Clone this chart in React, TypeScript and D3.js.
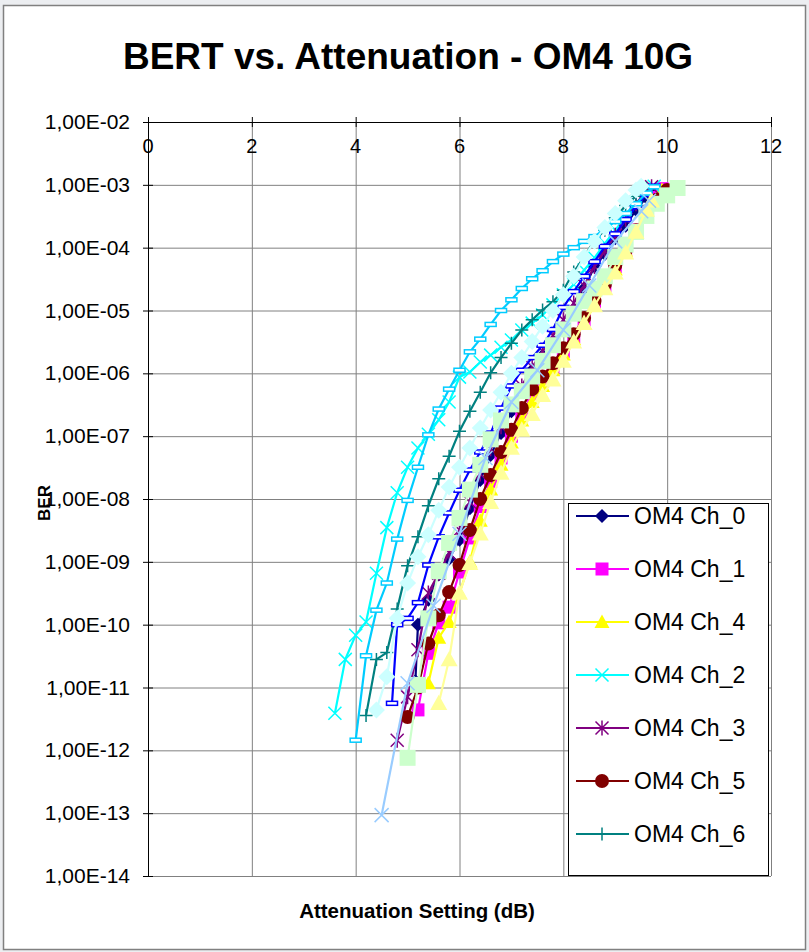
import React, { useRef, useEffect } from "react";
import * as d3 from "d3";

// axis ticks
const xTicks = [0, 2, 4, 6, 8, 10, 12];
const yTicks = [1e-2, 1e-3, 1e-4, 1e-5, 1e-6, 1e-7, 1e-8, 1e-9, 1e-10, 1e-11, 1e-12, 1e-13, 1e-14];
const yTickLabels = ["1,00E-02", "1,00E-03", "1,00E-04", "1,00E-05", "1,00E-06", "1,00E-07", "1,00E-08",
  "1,00E-09", "1,00E-10", "1,00E-11", "1,00E-12", "1,00E-13", "1,00E-14"];

// [attenuation dB, BER]
const ch0 = [[5.15, 1.26e-11], [5.2, 1.0e-10], [5.4, 2.5e-10], [5.6, 6.3e-10], [5.8, 1.12e-9], [6.0, 2.24e-9],
  [6.2, 7.1e-9], [6.4, 2.0e-8], [6.6, 5.0e-8], [6.8, 1.12e-7], [7.0, 2.5e-7], [7.2, 5.6e-7], [7.4, 1.12e-6],
  [7.6, 1.9e-6], [7.8, 3.2e-6], [8.0, 5.6e-6], [8.2, 1.0e-5], [8.4, 2.24e-5], [8.6, 5.0e-5], [8.8, 7.9e-5],
  [9.0, 1.41e-4], [9.2, 2.24e-4], [9.4, 4.0e-4], [9.6, 6.3e-4], [9.8, 8.9e-4]];
const ch1 = [[5.2, 4.4e-12], [5.4, 3.5e-11], [5.6, 1.07e-10], [5.8, 1.9e-10], [6.0, 6.9e-10], [6.2, 2.4e-9],
  [6.4, 7.6e-9], [6.6, 1.9e-8], [6.8, 4.5e-8], [7.0, 1.0e-7], [7.2, 2.24e-7], [7.4, 4.5e-7], [7.6, 7.4e-7],
  [7.8, 1.26e-6], [8.0, 2.24e-6], [8.2, 3.8e-6], [8.4, 7.1e-6], [8.6, 1.32e-5], [8.8, 2.5e-5], [9.0, 5.0e-5],
  [9.2, 9.3e-5], [9.4, 1.9e-4], [9.6, 3.5e-4], [9.8, 6.3e-4], [9.9, 8.7e-4]];
const ch4 = [[5.4, 1.17e-11], [5.6, 6.2e-11], [5.8, 1.1e-10], [6.0, 3.2e-10], [6.2, 1.0e-9], [6.4, 4.5e-9],
  [6.6, 1.41e-8], [6.8, 3.5e-8], [7.0, 7.9e-8], [7.2, 1.78e-7], [7.4, 3.5e-7], [7.6, 6.3e-7], [7.8, 1.12e-6],
  [8.0, 2.0e-6], [8.2, 3.5e-6], [8.4, 6.3e-6], [8.6, 1.2e-5], [8.8, 2.24e-5], [9.0, 4.5e-5], [9.2, 8.9e-5],
  [9.4, 1.78e-4], [9.6, 3.5e-4], [9.8, 6.0e-4], [9.9, 8.3e-4]];
const ch2 = [[3.6, 3.9e-12], [3.8, 2.8e-11], [4.0, 6.8e-11], [4.2, 1.1e-10], [4.4, 6.6e-10], [4.6, 3.5e-9],
  [4.8, 1.26e-8], [5.0, 3.2e-8], [5.2, 6.5e-8], [5.4, 1.07e-7], [5.6, 1.82e-7], [5.8, 3.5e-7], [6.0, 8.7e-7],
  [6.2, 1.05e-6], [6.4, 1.51e-6], [6.6, 1.95e-6], [6.8, 2.6e-6], [7.0, 3.4e-6], [7.2, 4.9e-6], [7.4, 6.3e-6],
  [7.6, 8.5e-6], [7.8, 1.23e-5], [8.0, 1.78e-5], [8.2, 2.6e-5], [8.4, 4.4e-5], [8.6, 6.9e-5], [8.8, 1.17e-4],
  [9.0, 1.9e-4], [9.2, 3.1e-4], [9.4, 5.1e-4], [9.6, 7.4e-4], [9.75, 9.5e-4]];
const ch3 = [[4.8, 1.45e-12], [5.0, 7.1e-12], [5.2, 4.0e-11], [5.4, 3.2e-10], [5.6, 6.6e-10], [5.8, 1.38e-9],
  [6.0, 3.2e-9], [6.2, 8.9e-9], [6.4, 2.5e-8], [6.6, 6.3e-8], [6.8, 1.41e-7], [7.0, 3.2e-7], [7.2, 6.3e-7],
  [7.4, 1.26e-6], [7.6, 2.24e-6], [7.8, 4.0e-6], [8.0, 7.1e-6], [8.2, 1.32e-5], [8.4, 2.5e-5], [8.6, 5.0e-5],
  [8.8, 8.9e-5], [9.0, 1.58e-4], [9.2, 2.8e-4], [9.4, 5.0e-4], [9.6, 7.9e-4], [9.7, 9.3e-4]];
const ch5 = [[5.0, 3.4e-12], [5.2, 1.0e-11], [5.4, 5.0e-11], [5.6, 1.41e-10], [5.8, 3.3e-10], [6.0, 8.9e-10],
  [6.2, 3.2e-9], [6.4, 1.0e-8], [6.6, 2.4e-8], [6.8, 5.6e-8], [7.0, 1.26e-7], [7.2, 2.8e-7], [7.4, 5.6e-7],
  [7.6, 8.9e-7], [7.8, 1.45e-6], [8.0, 2.5e-6], [8.2, 4.2e-6], [8.4, 7.6e-6], [8.6, 1.41e-5], [8.8, 2.6e-5],
  [9.0, 5.2e-5], [9.2, 9.1e-5], [9.4, 1.9e-4], [9.6, 3.8e-4], [9.8, 5.8e-4], [10.0, 8.3e-4]];
const ch6 = [[4.2, 3.6e-12], [4.4, 2.8e-11], [4.6, 3.6e-11], [4.8, 1.78e-10], [5.0, 8.7e-10], [5.2, 2.5e-9],
  [5.4, 7.8e-9], [5.6, 2.1e-8], [5.8, 4.8e-8], [6.0, 1.2e-7], [6.2, 2.5e-7], [6.4, 5.0e-7], [6.6, 1.02e-6],
  [6.8, 1.78e-6], [7.0, 3.0e-6], [7.2, 4.9e-6], [7.4, 7.1e-6], [7.6, 1.02e-5], [7.8, 1.38e-5], [8.0, 2.1e-5],
  [8.2, 4.1e-5], [8.4, 7.1e-5], [8.6, 1.32e-4], [8.8, 1.9e-4], [9.0, 3.0e-4], [9.2, 4.7e-4], [9.4, 6.6e-4],
  [9.6, 8.9e-4]];
const s8 = [[4.7, 5.6e-12], [4.8, 1.0e-10], [5.0, 1.26e-10], [5.2, 2.24e-10], [5.4, 8.9e-10], [5.6, 2.5e-9],
  [5.8, 6.0e-9], [6.0, 1.38e-8], [6.2, 2.9e-8], [6.4, 5.6e-8], [6.6, 1.12e-7], [6.8, 2.8e-7], [7.0, 6.3e-7],
  [7.2, 1.12e-6], [7.4, 1.78e-6], [7.6, 2.8e-6], [7.8, 5.0e-6], [8.0, 1.12e-5], [8.2, 2.0e-5], [8.4, 3.5e-5],
  [8.6, 6.0e-5], [8.8, 1.05e-4], [9.0, 1.66e-4], [9.2, 2.8e-4], [9.4, 4.5e-4], [9.6, 7.1e-4], [9.75, 9.5e-4]];
const s9 = [[4.0, 1.45e-12], [4.2, 3.2e-11], [4.4, 1.7e-10], [4.6, 4.6e-10], [4.8, 2.3e-9], [5.0, 9.5e-9],
  [5.2, 3.2e-8], [5.4, 1.05e-7], [5.6, 2.7e-7], [5.8, 5.6e-7], [6.0, 1.12e-6], [6.2, 2.2e-6], [6.4, 3.5e-6],
  [6.6, 6.0e-6], [6.8, 1.0e-5], [7.0, 1.48e-5], [7.2, 2.24e-5], [7.4, 3.2e-5], [7.6, 4.3e-5], [7.8, 6.0e-5],
  [8.0, 7.9e-5], [8.2, 1.0e-4], [8.4, 1.26e-4], [8.6, 1.5e-4], [8.8, 2.0e-4], [9.0, 2.6e-4], [9.2, 3.5e-4],
  [9.4, 5.0e-4], [9.6, 7.4e-4], [9.75, 9.3e-4]];
const s10 = [[4.4, 4.4e-12], [4.6, 1.48e-11], [4.8, 1.26e-10], [5.0, 4.6e-10], [5.2, 1.2e-9], [5.4, 2.7e-9],
  [5.6, 6.6e-9], [5.8, 1.55e-8], [6.0, 3.2e-8], [6.2, 6.5e-8], [6.4, 1.35e-7], [6.6, 2.6e-7], [6.8, 5.0e-7],
  [7.0, 1.0e-6], [7.2, 1.78e-6], [7.4, 3.2e-6], [7.6, 5.6e-6], [7.8, 1.0e-5], [8.0, 1.78e-5], [8.2, 3.5e-5],
  [8.4, 7.1e-5], [8.6, 1.26e-4], [8.8, 2.1e-4], [9.0, 3.5e-4], [9.2, 5.6e-4], [9.4, 8.3e-4], [9.5, 9.5e-4]];
const s11 = [[5.0, 7.6e-13], [5.2, 1.1e-11], [5.4, 1.26e-10], [5.6, 7.1e-10], [5.8, 2.0e-9], [6.0, 5.0e-9],
  [6.2, 1.41e-8], [6.4, 3.5e-8], [6.6, 8.9e-8], [6.8, 1.78e-7], [7.0, 3.2e-7], [7.2, 5.2e-7], [7.4, 8.9e-7],
  [7.6, 1.58e-6], [7.8, 2.8e-6], [8.0, 5.0e-6], [8.2, 8.9e-6], [8.4, 1.41e-5], [8.6, 2.24e-5], [8.8, 3.5e-5],
  [9.0, 7.1e-5], [9.2, 1.12e-4], [9.4, 1.78e-4], [9.6, 3.2e-4], [9.8, 5.0e-4], [10.0, 6.8e-4], [10.2, 8.9e-4]];
const s12 = [[5.6, 5.6e-12], [5.8, 2.8e-11], [6.0, 3.2e-10], [6.2, 9.5e-10], [6.4, 2.8e-9], [6.6, 8.9e-9],
  [6.8, 2.6e-8], [7.0, 6.5e-8], [7.2, 1.26e-7], [7.4, 2.24e-7], [7.6, 4.5e-7], [7.8, 7.9e-7], [8.0, 1.58e-6],
  [8.2, 3.2e-6], [8.4, 6.3e-6], [8.6, 1.2e-5], [8.8, 2.24e-5], [9.0, 4.0e-5], [9.2, 8.3e-5], [9.4, 1.78e-4],
  [9.6, 4.0e-4], [9.7, 5.6e-4]];
const s13 = [[4.5, 9.3e-14], [5.0, 1.17e-11], [5.5, 2.0e-10], [6.0, 2.8e-9], [6.5, 4.5e-8], [7.0, 3.5e-7],
  [7.5, 1.12e-6], [8.0, 4.9e-6], [8.5, 2.5e-5], [9.0, 1.26e-4], [9.5, 3.8e-4], [9.65, 5.6e-4]];

const series = [
  { name: "OM4 Ch_0", data: ch0, color: "#000080", marker: "diamond", size: 7, legend: true },
  { name: "OM4 Ch_1", data: ch1, color: "#FF00FF", marker: "square", size: 6.5, legend: true },
  { name: "OM4 Ch_4", data: ch4, color: "#FFFF00", marker: "triangle", size: 7.5, legend: true },
  { name: "OM4 Ch_2", data: ch2, color: "#00FFFF", marker: "x", size: 6.5, legend: true },
  { name: "OM4 Ch_3", data: ch3, color: "#800080", marker: "star", size: 6.5, legend: true },
  { name: "OM4 Ch_5", data: ch5, color: "#800000", marker: "circle", size: 7, legend: true },
  { name: "OM4 Ch_6", data: ch6, color: "#008080", marker: "plus", size: 6.5, legend: true },
  { name: "s8", data: s8, color: "#0000FF", marker: "dash", size: 5.5, legend: false },
  { name: "s9", data: s9, color: "#00CCFF", marker: "dash", size: 5.5, legend: false },
  { name: "s10", data: s10, color: "#CCFFFF", marker: "diamond", size: 8.5, legend: false },
  { name: "s11", data: s11, color: "#CCFFCC", marker: "square", size: 8, legend: false },
  { name: "s12", data: s12, color: "#FFFF99", marker: "triangle", size: 8.5, legend: false },
  { name: "s13", data: s13, color: "#99CCFF", marker: "x", size: 7, legend: false },
];

function drawMarker(g, type, cx, cy, color, s) {
  if (type === "diamond") {
    g.append("path").attr("d", `M${cx},${cy - s}L${cx + s},${cy}L${cx},${cy + s}L${cx - s},${cy}Z`).attr("fill", color);
  } else if (type === "square") {
    g.append("rect").attr("x", cx - s).attr("y", cy - s).attr("width", 2 * s).attr("height", 2 * s).attr("fill", color);
  } else if (type === "triangle") {
    g.append("path").attr("d", `M${cx},${cy - s}L${cx + s},${cy + s * 0.8}L${cx - s},${cy + s * 0.8}Z`).attr("fill", color);
  } else if (type === "circle") {
    g.append("circle").attr("cx", cx).attr("cy", cy).attr("r", s).attr("fill", color);
  } else if (type === "x" || type === "star") {
    g.append("path").attr("d", `M${cx - s},${cy - s}L${cx + s},${cy + s}M${cx - s},${cy + s}L${cx + s},${cy - s}`
      + (type === "star" ? `M${cx},${cy - s - 1}L${cx},${cy + s + 1}` : ""))
      .attr("stroke", color).attr("stroke-width", 1.5).attr("fill", "none");
  } else if (type === "plus") {
    g.append("path").attr("d", `M${cx - s},${cy}L${cx + s},${cy}M${cx},${cy - s}L${cx},${cy + s}`)
      .attr("stroke", color).attr("stroke-width", 1.5).attr("fill", "none");
  } else if (type === "dash") {
    g.append("rect").attr("x", cx - s).attr("y", cy - 2).attr("width", 2 * s).attr("height", 4)
      .attr("fill", "#ffffff").attr("stroke", color).attr("stroke-width", 1.5);
  }
}

export default function App() {
  const ref = useRef(null);
  const width = 809;
  const height = 952;
  const margin = { left: 148, right: 38, top: 122, bottom: 76 };

  useEffect(() => {
    const svg = d3.select(ref.current);
    svg.selectAll("*").remove();
    const font = "Arial, 'Liberation Sans', sans-serif";

    const x = d3.scaleLinear().domain([0, 12]).range([margin.left, width - margin.right]);
    const y = d3.scaleLog().domain([1e-14, 1e-2]).range([height - margin.bottom, margin.top]);

    // page background and chart frame
    svg.append("rect").attr("width", width).attr("height", height).attr("fill", "#eceef1");
    svg.append("rect").attr("x", 3.5).attr("y", 5.5).attr("width", 802).attr("height", 944)
      .attr("fill", "#ffffff").attr("stroke", "#808080").attr("stroke-width", 1.5);

    // title
    svg.append("text").attr("x", 408).attr("y", 69).attr("text-anchor", "middle")
      .style("font-family", font).style("font-size", "37px").style("font-weight", "bold")
      .text("BERT vs. Attenuation - OM4 10G");

    // grid
    const grid = svg.append("g").attr("stroke", "#808080").attr("stroke-width", 1);
    xTicks.slice(1).forEach((t) => {
      grid.append("line").attr("x1", x(t) + 0.5).attr("x2", x(t) + 0.5).attr("y1", y(1e-2)).attr("y2", y(1e-14));
    });
    yTicks.slice(1).forEach((t) => {
      grid.append("line").attr("x1", x(0)).attr("x2", x(12)).attr("y1", y(t) + 0.5).attr("y2", y(t) + 0.5);
    });

    // axes
    const axes = svg.append("g").attr("stroke", "#000000").attr("stroke-width", 1);
    axes.append("line").attr("x1", x(0) + 0.5).attr("x2", x(0) + 0.5).attr("y1", y(1e-2)).attr("y2", y(1e-14));
    axes.append("line").attr("x1", x(0)).attr("x2", x(12) + 1).attr("y1", y(1e-2) + 0.5).attr("y2", y(1e-2) + 0.5);
    xTicks.forEach((t) => {
      axes.append("line").attr("x1", x(t) + 0.5).attr("x2", x(t) + 0.5).attr("y1", y(1e-2) - 5).attr("y2", y(1e-2) + 5);
    });
    yTicks.forEach((t) => {
      axes.append("line").attr("x1", x(0) - 5).attr("x2", x(0) + 5).attr("y1", y(t) + 0.5).attr("y2", y(t) + 0.5);
    });

    xTicks.forEach((t) => {
      svg.append("text").attr("x", x(t)).attr("y", y(1e-2) + 31).attr("text-anchor", "middle")
        .style("font-family", font).style("font-size", "20px").text(t);
    });
    yTicks.forEach((t, i) => {
      svg.append("text").attr("x", 130).attr("y", y(t) + 7).attr("text-anchor", "end")
        .style("font-family", font).style("font-size", "21px").text(yTickLabels[i]);
    });

    // axis titles
    svg.append("text").attr("transform", `translate(50,${(y(1e-2) + y(1e-14)) / 2 + 4}) rotate(-90)`)
      .attr("text-anchor", "middle").style("font-family", font).style("font-size", "17px")
      .style("font-weight", "bold").text("BER");
    svg.append("text").attr("x", 417).attr("y", 918).attr("text-anchor", "middle")
      .style("font-family", font).style("font-size", "20.5px").style("font-weight", "bold")
      .text("Attenuation Setting (dB)");

    // series
    const line = d3.line().x((d) => x(d[0])).y((d) => y(d[1]));
    series.forEach((s) => {
      const g = svg.append("g");
      g.append("path").datum(s.data).attr("d", line).attr("fill", "none")
        .attr("stroke", s.color).attr("stroke-width", 2.2);
      s.data.forEach((d) => drawMarker(g, s.marker, x(d[0]), y(d[1]), s.color, s.size));
    });

    // legend
    const lg = svg.append("g");
    lg.append("rect").attr("x", 568.5).attr("y", 503.5).attr("width", 200).attr("height", 372)
      .attr("fill", "#ffffff").attr("stroke", "#000000").attr("stroke-width", 1);
    series.filter((s) => s.legend).forEach((s, i) => {
      const ly = 516 + i * 53;
      lg.append("line").attr("x1", 576).attr("x2", 629).attr("y1", ly).attr("y2", ly)
        .attr("stroke", s.color).attr("stroke-width", 2.2);
      drawMarker(lg, s.marker, 602, ly, s.color, s.size);
      lg.append("text").attr("x", 634).attr("y", ly + 8).style("font-family", font)
        .style("font-size", "23px").text(s.name);
    });
  }, []);

  return <svg ref={ref} width={width} height={height} style={{ position: "absolute", left: 0, top: 0 }} />;
}
